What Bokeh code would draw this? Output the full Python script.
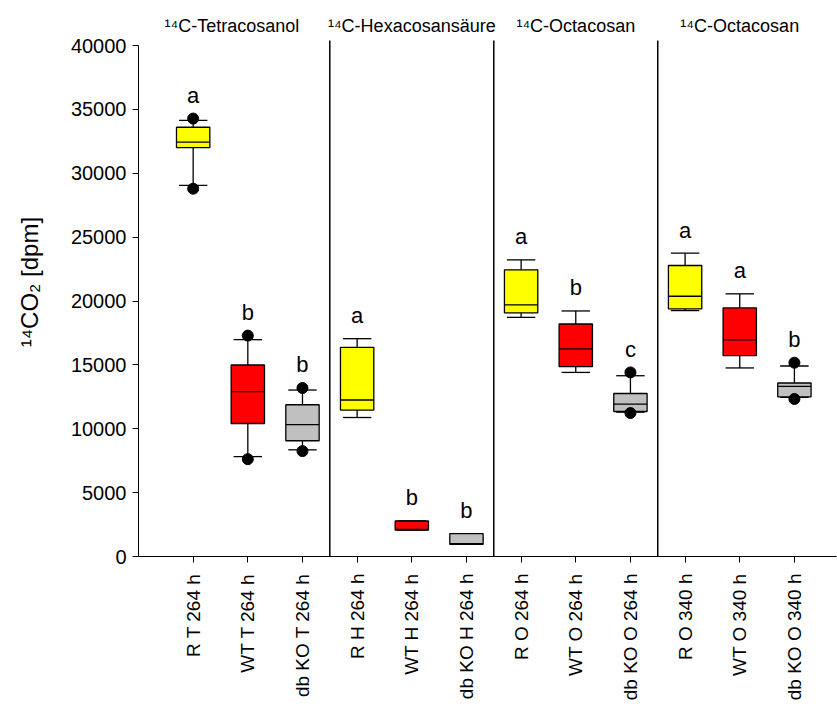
import numpy as np
from bokeh.plotting import figure
from bokeh.layouts import row
from bokeh.models import Range1d, FixedTicker
from bokeh.core.properties import value
from bokeh.embed import file_html
from bokeh.resources import INLINE

# ---------------- data ----------------
categories = ["R T 264 h", "WT T 264 h", "db KO T 264 h",
              "R H 264 h", "WT H 264 h", "db KO H 264 h",
              "R O 264 h", "WT O 264 h", "db KO O 264 h",
              "R O 340 h", "WT O 340 h", "db KO O 340 h"]
group_titles = ["\u00b9\u2074C-Tetracosanol", "\u00b9\u2074C-Hexacosans\u00e4ure",
                "\u00b9\u2074C-Octacosan", "\u00b9\u2074C-Octacosan"]
y_label = "\u00b9\u2074CO\u2082 [dpm]"
group_size = 3
strain_colors = ["#FFFF00", "#FF0000", "#C0C0C0"]
y_ticks = [0, 5000, 10000, 15000, 20000, 25000, 30000, 35000, 40000]

q1 = [32000, 10410, 9060, 11460, 2060, 960, 19070, 14860, 11350, 19380, 15720, 12500]
median = [32440, 12900, 10330, 12250, 2120, 1010, 19690, 16250, 11930, 20370, 16950, 13310]
q3 = [33600, 14990, 11880, 16370, 2780, 1790, 22440, 18200, 12760, 22780, 19460, 13580]
whisker_low = [29050, 7820, 8350, 10880, 2060, 960, 18720, 14410, 11300, 19250, 14760, 12450]
whisker_high = [34140, 16970, 13030, 17050, 2780, 1790, 23220, 19220, 14150, 23740, 20560, 14910]
letters = ["a", "b", "b", "a", "b", "b", "a", "b", "c", "a", "a", "b"]

outlier_box = [0, 0, 1, 1, 2, 2, 8, 8, 11, 11]
outlier_val = [34280, 28790, 17290, 7620, 13190, 8250, 14410, 11230, 15170, 12330]

# ---------------- derived ----------------
n = len(categories)
x = np.arange(1, n + 1)
colors = [strain_colors[i % group_size] for i in range(n)]
box_w = 0.61
cap_w = 0.52
q1a, meda, q3a = np.array(q1), np.array(median), np.array(q3)
wlo, whi = np.array(whisker_low), np.array(whisker_high)
out_x = x[np.array(outlier_box)]
top_val = whi.astype(float).copy()
for b, v in zip(outlier_box, outlier_val):
    top_val[b] = max(top_val[b], v)

n_groups = len(group_titles)
sep_x = [group_size * (g + 1) + 0.5 for g in range(n_groups - 1)]
title_x = [group_size * g + (group_size + 1) / 2 for g in range(n_groups)]
title_shift = [-16, 0, 0, 0]

FONT = "Liberation Sans"
Y_MAX = max(y_ticks)
W, H = 837, 704
LABEL_W = 45            # strip holding the rotated y-axis title
FRAME_LEFT = 138        # page x of the plotting area
FRAME_BOTTOM = 556      # page y of value 0
AXIS_TOP = 45           # page y of value 40000
LABEL_ANCHOR = 439      # page y of the rotated y title's anchor
px = Y_MAX / (FRAME_BOTTOM - AXIS_TOP)      # data units per pixel
Y_END = FRAME_BOTTOM * px                   # frame spans page y 0 .. 556
letter_y = top_val + 23 * px
title_y = (FRAME_BOTTOM - 25) * px
sep_top = (FRAME_BOTTOM - 40) * px

# ---------------- y-axis title strip ----------------
lab = figure(width=LABEL_W, height=H, x_range=Range1d(0, LABEL_W), y_range=Range1d(0, H),
             output_backend="svg", toolbar_location=None,
             x_axis_location=None, y_axis_location=None,
             min_border_left=0, min_border_right=0, min_border_top=0, min_border_bottom=0)
lab.outline_line_color = None
lab.grid.visible = False
lab.background_fill_color = "white"
lab.border_fill_color = "white"
lab.text(x=[28.5], y=[H - LABEL_ANCHOR], text=[y_label], angle=np.pi / 2,
         text_align="left", text_baseline="middle", text_font=value(FONT),
         text_font_size="24px", text_color="black")

# ---------------- main plot ----------------
p = figure(width=W - LABEL_W, height=H,
           x_range=Range1d(0, 12.77), y_range=Range1d(0, Y_END),
           output_backend="svg", toolbar_location=None,
           min_border_left=FRAME_LEFT - LABEL_W, min_border_right=1,
           min_border_top=0, min_border_bottom=H - FRAME_BOTTOM)
p.outline_line_color = None
p.grid.visible = False
p.background_fill_color = "white"
p.border_fill_color = "white"

# y axis
yax = p.yaxis[0]
yax.ticker = FixedTicker(ticks=y_ticks)
yax.bounds = (0, Y_MAX)
yax.minor_tick_line_color = None
yax.major_tick_out = 6
yax.major_tick_in = 0
yax.axis_line_color = "black"
yax.major_tick_line_color = "black"
yax.major_label_text_font = FONT
yax.major_label_text_font_size = "20px"
yax.major_label_text_color = "black"
yax.major_label_standoff = 6

# x axis
xax = p.xaxis[0]
xax.ticker = FixedTicker(ticks=list(x))
xax.major_label_overrides = {int(i): c for i, c in zip(x, categories)}
xax.major_label_orientation = np.pi / 2
xax.minor_tick_line_color = None
xax.major_tick_out = 6
xax.major_tick_in = 0
xax.axis_line_color = "black"
xax.major_tick_line_color = "black"
xax.major_label_text_font = FONT
xax.major_label_text_font_size = "19px"
xax.major_label_text_color = "black"
xax.major_label_standoff = 11

# whiskers
p.segment(x0=x, y0=q3a, x1=x, y1=whi, line_color="black", line_width=1.3)
p.segment(x0=x, y0=q1a, x1=x, y1=wlo, line_color="black", line_width=1.3)
# caps
p.segment(x0=x - cap_w / 2, y0=whi, x1=x + cap_w / 2, y1=whi, line_color="black", line_width=1.3)
p.segment(x0=x - cap_w / 2, y0=wlo, x1=x + cap_w / 2, y1=wlo, line_color="black", line_width=1.3)
# boxes
p.vbar(x=x, width=box_w, bottom=q1a, top=q3a, fill_color=colors,
       line_color="black", line_width=1.3)
# medians
p.segment(x0=x - box_w / 2, y0=meda, x1=x + box_w / 2, y1=meda, line_color="black", line_width=1.3)
# outliers
p.scatter(x=out_x, y=outlier_val, size=11, color="black")

# significance letters
p.text(x=x, y=letter_y, text=letters, text_align="center",
       text_baseline="alphabetic", text_font=value(FONT), text_font_size="22px",
       text_color="black")

# group separators
p.segment(x0=sep_x, y0=[0] * len(sep_x), x1=sep_x, y1=[sep_top] * len(sep_x),
          line_color="black", line_width=1.5)

# group titles
p.text(x=title_x, y=[title_y] * n_groups, text=group_titles, x_offset=title_shift,
       text_align="center", text_baseline="middle", text_font=value(FONT),
       text_font_size="18px", text_color="black")

layout = row(lab, p, spacing=0)
open("out.html", "w").write(file_html(layout, INLINE))
